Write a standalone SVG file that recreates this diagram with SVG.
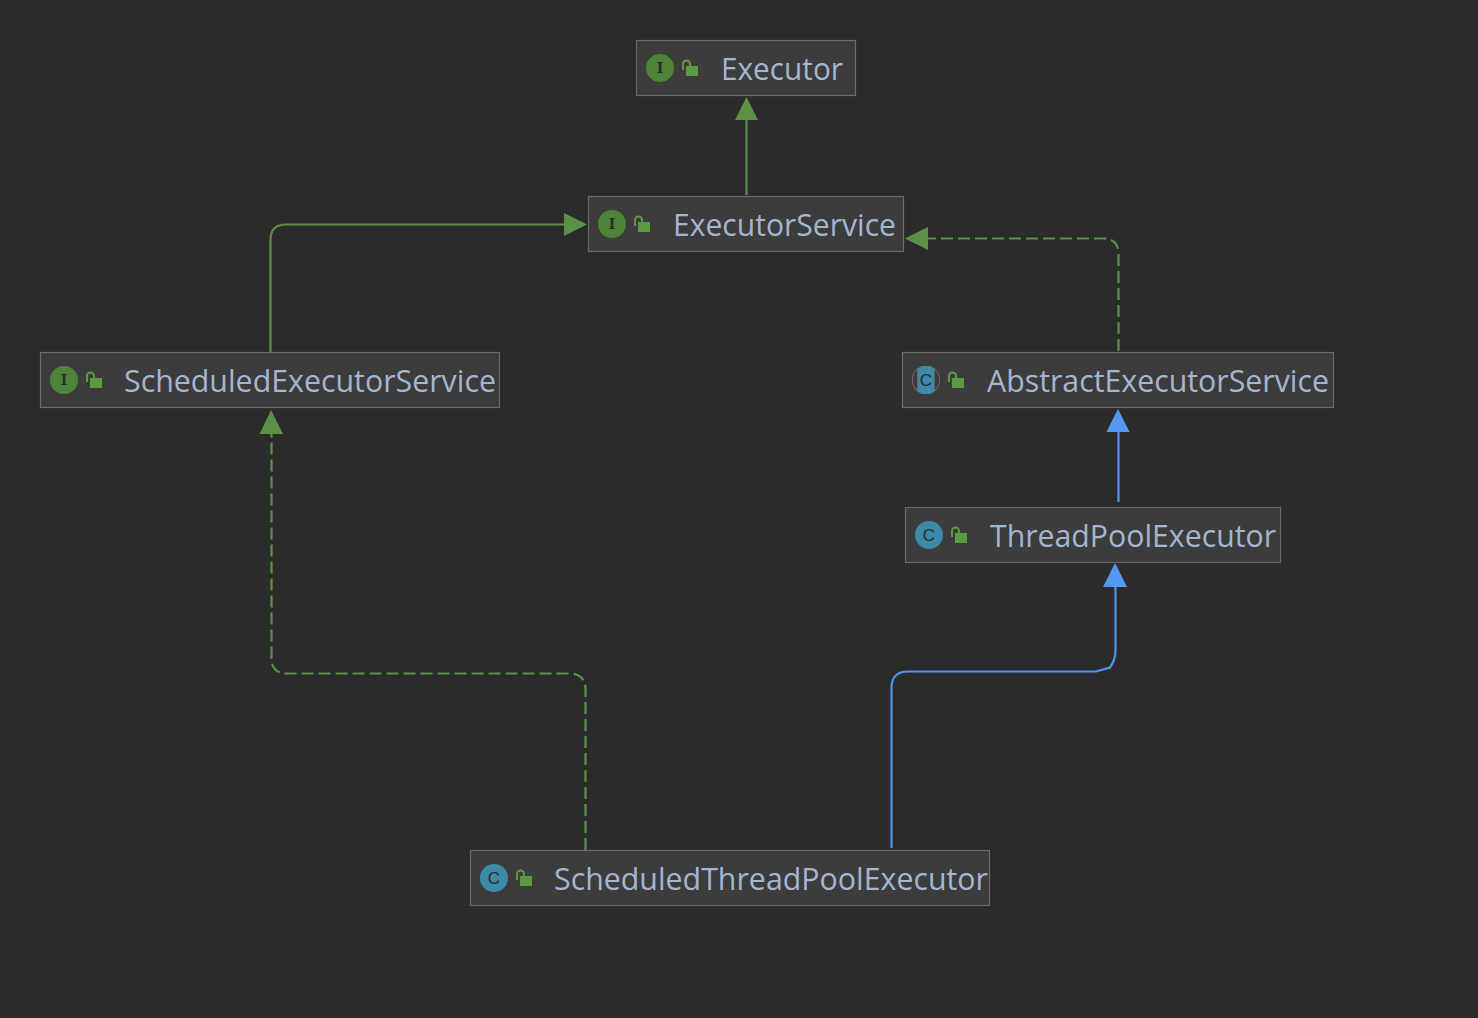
<svg xmlns="http://www.w3.org/2000/svg" width="1478" height="1018" viewBox="0 0 1478 1018">
<defs>
<style>
.box{fill:#3c3c3c;stroke:#6a6a6a;stroke-width:1.2}
.t{font-family:"Open Sans","Noto Sans","DejaVu Sans",sans-serif;font-size:31px;fill:#a5b6d0}
.g{fill:none;stroke:#5a9147;stroke-width:2.2}
.b{fill:none;stroke:#4f95ee;stroke-width:2.2}
.d{stroke-dasharray:12 5}
.ag{fill:#5a9147}
.ab{fill:#549af5}
.ii{fill:#4d8437}
.ic{fill:#3d8aa8}
.il{font-family:"DejaVu Serif",serif;font-size:14px;font-weight:bold;fill:#2b2b2b;text-anchor:middle}
.cl{font-family:"Liberation Sans",sans-serif;font-size:17px;fill:#2b2b2b;text-anchor:middle}
.lock{fill:#5a9a42}
.sh{fill:none;stroke:#5a9a42;stroke-width:2}
</style>
<g id="lockIcon"><path class="sh" d="M-7 1V-5a3.500 3.500 0 0 1 7 0V-3"/><rect class="lock" x="-4" y="-3" width="12" height="10"/></g>
</defs>
<rect width="1478" height="1018" fill="#2b2b2b"/>
<g id="connectors">
<path class="g" d="M746.500 195V118"/>
<polygon class="ag" points="746.500,97 735,120 758,120"/>
<path class="g" d="M270.500 352V240Q270.500 224.500 286 224.500H566"/>
<polygon class="ag" points="587,224.500 564,213 564,236"/>
<path class="g d" d="M1118.500 351V254Q1118.500 238.500 1103 238.500H926"/>
<polygon class="ag" points="905,238.500 928,227 928,250"/>
<path class="g d" d="M585.500 850V690Q585.500 673.500 569 673.500H287Q271.500 673.500 271.500 658V432"/>
<polygon class="ag" points="271,410 259.500,434 283,434"/>
<path class="b" d="M1118.500 502V430"/>
<polygon class="ab" points="1118,409 1106.500,432 1129.500,432"/>
<path class="b" d="M891.500 848V688Q891.500 671.500 908 671.500H1096L1110 667.500Q1115.500 660 1115.500 650V584"/>
<polygon class="ab" points="1115,563 1103,587 1127,587"/>
</g>
<g id="executor">
<rect class="box" x="636.500" y="40.500" width="219" height="55"/>
<circle class="ii" cx="660" cy="68" r="14"/><text class="il" x="660" y="73">I</text>
<use href="#lockIcon" x="690" y="69"/>
<text class="t" x="721" y="80" textLength="122" lengthAdjust="spacingAndGlyphs">Executor</text>
</g>
<g id="executorService">
<rect class="box" x="588.500" y="196.500" width="315" height="55"/>
<circle class="ii" cx="612" cy="224" r="14"/><text class="il" x="612" y="229">I</text>
<use href="#lockIcon" x="642" y="225"/>
<text class="t" x="673" y="236" textLength="223" lengthAdjust="spacingAndGlyphs">ExecutorService</text>
</g>
<g id="scheduledExecutorService">
<rect class="box" x="40.500" y="352.500" width="459" height="55"/>
<circle class="ii" cx="64" cy="380" r="14"/><text class="il" x="64" y="385">I</text>
<use href="#lockIcon" x="94" y="381"/>
<text class="t" x="124" y="392" textLength="372" lengthAdjust="spacingAndGlyphs">ScheduledExecutorService</text>
</g>
<g id="abstractExecutorService">
<rect class="box" x="902.500" y="352.500" width="431" height="55"/>
<circle cx="926" cy="380" r="14" fill="#8a8a8a"/>
<rect x="918" y="366" width="16" height="28" rx="5" class="ic"/>
<path d="M912.500 380a13.500 13.500 0 0 1 5 -10.500v21a13.500 13.500 0 0 1 -5 -10.500zM939.500 380a13.500 13.500 0 0 0 -5 -10.500v21a13.500 13.500 0 0 0 5 -10.500z" fill="#3c3c3c"/>
<text class="cl" x="926" y="386">C</text>
<use href="#lockIcon" x="956" y="381"/>
<text class="t" x="987" y="392" textLength="342" lengthAdjust="spacingAndGlyphs">AbstractExecutorService</text>
</g>
<g id="threadPoolExecutor">
<rect class="box" x="905.500" y="507.500" width="375" height="55"/>
<circle class="ic" cx="929" cy="535" r="14"/><text class="cl" x="929" y="541">C</text>
<use href="#lockIcon" x="959" y="536"/>
<text class="t" x="990" y="547" textLength="286" lengthAdjust="spacingAndGlyphs">ThreadPoolExecutor</text>
</g>
<g id="scheduledThreadPoolExecutor">
<rect class="box" x="470.500" y="850.500" width="519" height="55"/>
<circle class="ic" cx="494" cy="878" r="14"/><text class="cl" x="494" y="884">C</text>
<use href="#lockIcon" x="524" y="879"/>
<text class="t" x="554" y="890" textLength="434" lengthAdjust="spacingAndGlyphs">ScheduledThreadPoolExecutor</text>
</g>
</svg>
